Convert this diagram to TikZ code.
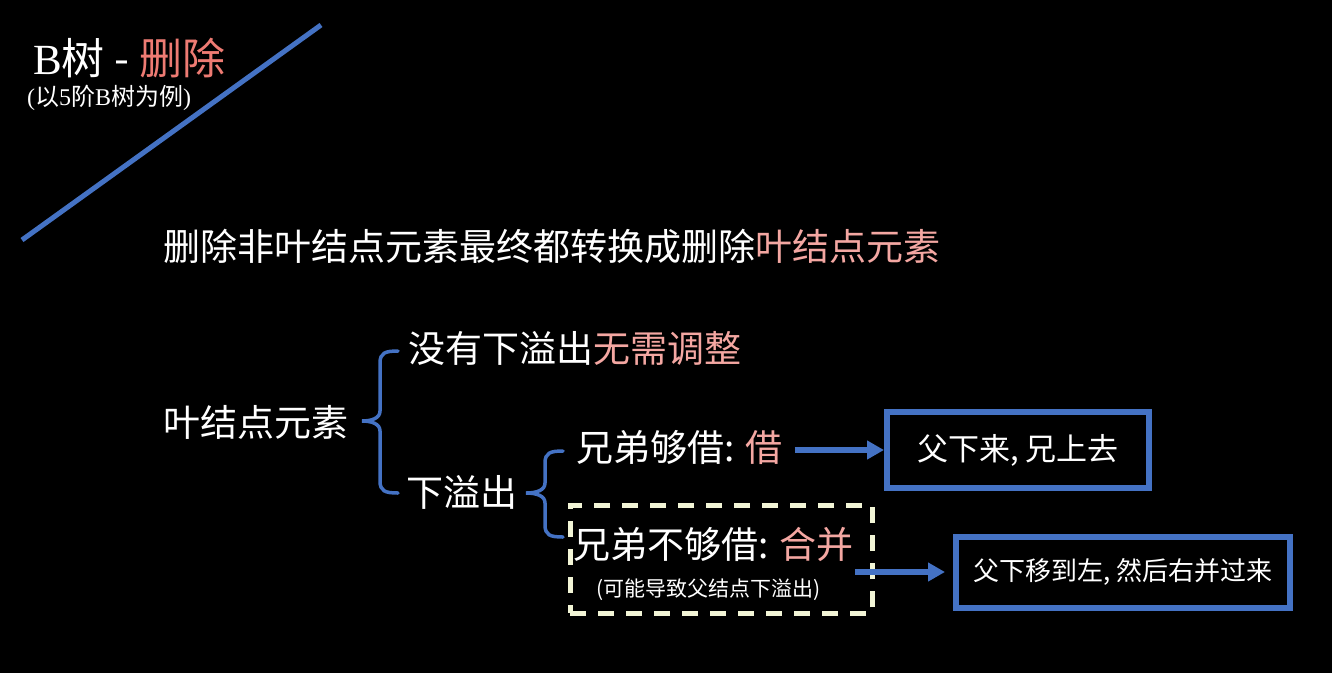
\documentclass[tikz,border=0pt]{standalone}
\usepackage{fontspec}
\setmainfont{Noto Sans CJK SC}
\newfontfamily\latinserif{Liberation Serif}
\usetikzlibrary{arrows.meta}
\definecolor{bgblack}{HTML}{000000}
\definecolor{pptblue}{HTML}{4472C4}
\definecolor{hotpink}{HTML}{EE7B73}
\definecolor{softpink}{HTML}{F4A7A2}
\definecolor{cream}{HTML}{F2F5D6}
\newcommand{\fs}[1]{\fontsize{#1}{#1}\selectfont}
\begin{document}
\begin{tikzpicture}[x=1pt,y=-1pt,
  txt/.style={text=white,inner sep=0pt,anchor=west},
  bluebox/.style={draw=pptblue,line width=6pt,text=white,inner sep=0pt},
  dashbox/.style={draw=cream,line width=5pt,dash pattern=on 16pt off 12pt},
  bracepath/.style={draw=pptblue,line width=3.5pt,line cap=round},
  arr/.style={draw=pptblue,line width=6pt,-{Triangle[length=17pt,width=18pt]}}]
\fill[bgblack] (0,0) rectangle (1332,673);
\useasboundingbox (0,0) rectangle (1332,673);
% diagonal
\coordinate (d1) at (22,240);
\coordinate (d2) at (321,25);
\draw[pptblue,line width=5pt] (d1) -- (d2);
% titles
\node[txt] (title) at (33,58) {\fs{43}{\latinserif B}树 - \textcolor{hotpink}{删除}};
\node[txt] (sub) at (27,98) {\fs{24}{\latinserif (}以{\latinserif 5}阶{\latinserif B}树为例{\latinserif )}};
\node[txt] (main) at (163,246) {\fs{37}删除非叶结点元素最终都转换成删除\textcolor{softpink}{叶结点元素}};
% tree
\node[txt] (leaf) at (163,422) {\fs{37}叶结点元素};
\node[txt] (noover) at (408,348) {\fs{37}没有下溢出\textcolor{softpink}{无需调整}};
\node[txt] (under) at (406,492) {\fs{37}下溢出};
\node[txt] (borrow) at (576,447) {\fs{37}兄弟够借: \textcolor{softpink}{借}};
\node[txt] (merge) at (573,545) {\fs{37}兄弟不够借: \textcolor{softpink}{合并}};
\node[txt] (note) at (596,590) {\fs{21}(可能导致父结点下溢出)};
% dashed box
\node[dashbox,minimum width=302pt,minimum height=108pt] (dbox) at (721,559) {};
% result boxes
\node[bluebox,minimum width=262pt,minimum height=76pt] (box1) at (1018,450) {\fs{31}父下来, 兄上去};
\node[bluebox,minimum width=334pt,minimum height=71pt] (box2) at (1123,572) {\fs{26}父下移到左, 然后右并过来};
% braces
\draw[bracepath] (398,351) .. controls (385,351) and (380,353) .. (380,363) -- (380,411)
  .. controls (380,418) and (372,421) .. (362,421)
  .. controls (372,421) and (380,424) .. (380,431) -- (380,481)
  .. controls (380,491) and (385,493) .. (398,493);
\draw[bracepath] (563,451) .. controls (550,451) and (545,453) .. (545,463) -- (545,483)
  .. controls (545,490) and (537,493) .. (526,493)
  .. controls (537,493) and (545,496) .. (545,503) -- (545,525)
  .. controls (545,535) and (550,537) .. (563,537);
% arrows
\draw[arr] ([xshift=12pt]borrow.east |- box1.west) -- (box1.west);
\draw[arr] ([xshift=1pt]merge.east |- box2.west) -- ([xshift=-8pt]box2.west);
\end{tikzpicture}
\end{document}
